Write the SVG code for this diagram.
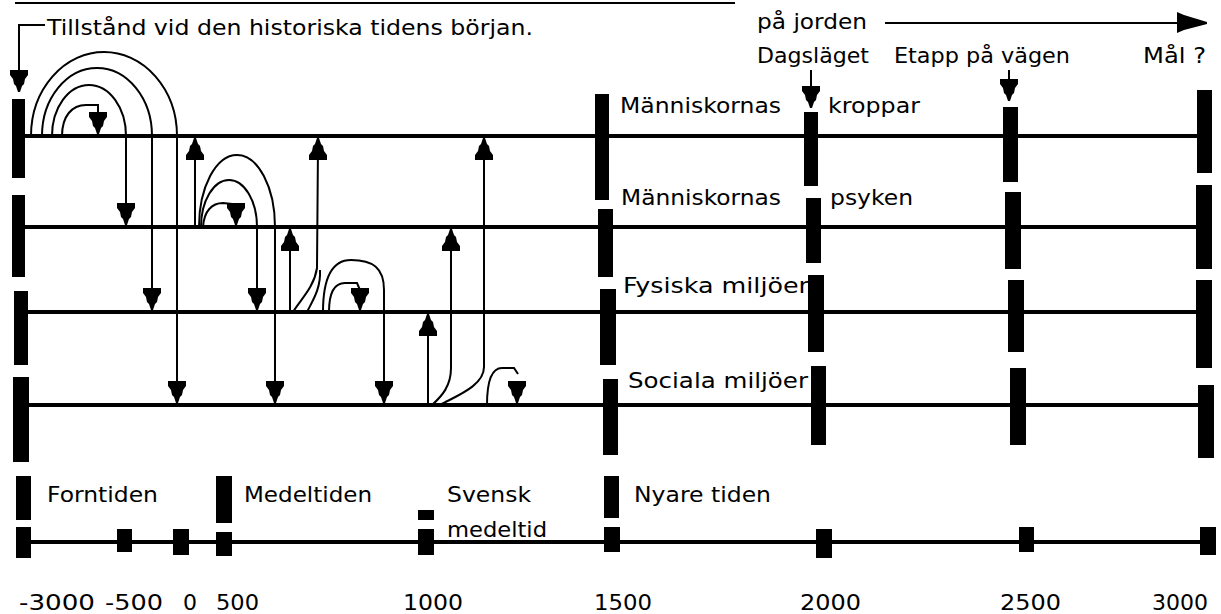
<svg xmlns="http://www.w3.org/2000/svg" xmlns:xlink="http://www.w3.org/1999/xlink" width="1221" height="614" viewBox="0 0 1221 614">
<style>
.ln{stroke:#000;stroke-width:4;fill:none}
.c{stroke:#000;stroke-width:2;fill:none}
.bar{fill:#000}
.t{font-family:"DejaVu Sans","Liberation Sans",sans-serif;font-size:22px;fill:#000}
</style>
<defs>
<path id="up" d="M-1,0 L1,0 L3,6 L5,8 L6,13 L9,17 L9,22 L-9,22 L-9,17 L-6,13 L-5,8 L-3,6 Z" fill="#000"/>
</defs>
<rect width="1221" height="614" fill="#fff"/>

<g id="title">
<line x1="15" y1="3" x2="735" y2="3" stroke="#000" stroke-width="2"/>
</g>

<g id="timelines">
<line class="ln" x1="12" y1="136" x2="1210" y2="136"/>
<line class="ln" x1="12" y1="227" x2="1210" y2="227"/>
<line class="ln" x1="14" y1="312" x2="1210" y2="312"/>
<line class="ln" x1="14" y1="405" x2="1212" y2="405"/>
<line class="ln" x1="16" y1="542" x2="1214" y2="542"/>
</g>

<g id="bars">
<rect class="bar" x="12" y="99" width="13" height="79"/>
<rect class="bar" x="12" y="195" width="13" height="82"/>
<rect class="bar" x="14" y="291" width="14" height="74"/>
<rect class="bar" x="13" y="377" width="16" height="85"/>
<rect class="bar" x="16" y="476" width="15" height="44"/>
<rect class="bar" x="16" y="527" width="15" height="31"/>

<rect class="bar" x="595" y="94" width="14" height="106"/>
<rect class="bar" x="598" y="209" width="15" height="68"/>
<rect class="bar" x="600" y="289" width="16" height="76"/>
<rect class="bar" x="603" y="379" width="15" height="76"/>
<rect class="bar" x="604" y="476" width="15" height="42"/>
<rect class="bar" x="604" y="527" width="16" height="25"/>

<rect class="bar" x="804" y="112" width="14" height="74"/>
<rect class="bar" x="806" y="198" width="15" height="65"/>
<rect class="bar" x="808" y="275" width="16" height="77"/>
<rect class="bar" x="811" y="366" width="15" height="79"/>
<rect class="bar" x="816" y="529" width="16" height="29"/>

<rect class="bar" x="1003" y="107" width="15" height="75"/>
<rect class="bar" x="1005" y="192" width="16" height="77"/>
<rect class="bar" x="1008" y="280" width="16" height="72"/>
<rect class="bar" x="1010" y="368" width="16" height="77"/>
<rect class="bar" x="1019" y="527" width="15" height="25"/>

<rect class="bar" x="1197" y="90" width="15" height="83"/>
<rect class="bar" x="1196" y="185" width="16" height="84"/>
<rect class="bar" x="1196" y="280" width="16" height="88"/>
<rect class="bar" x="1198" y="385" width="16" height="73"/>
<rect class="bar" x="1200" y="527" width="16" height="28"/>

<rect class="bar" x="117" y="529" width="15" height="23"/>
<rect class="bar" x="173" y="529" width="16" height="26"/>
<rect class="bar" x="216" y="476" width="16" height="47"/>
<rect class="bar" x="216" y="532" width="16" height="24"/>
<rect class="bar" x="418" y="510" width="16" height="10"/>
<rect class="bar" x="418" y="529" width="16" height="26"/>
</g>

<g id="connectors">
<path class="c" d="M45,25 L19,25 L19,72"/>
<use href="#up" transform="translate(19,92) scale(1,-1)"/>
<line class="c" x1="885" y1="23" x2="1185" y2="23"/>
<polygon points="1177,12 1184,15 1207,22 1207,24 1184,30 1177,33" fill="#000"/>
<line class="c" x1="811" y1="70" x2="811" y2="100"/>
<use href="#up" transform="translate(811,108) scale(1,-1)"/>
<line class="c" x1="1009" y1="70" x2="1009" y2="95"/>
<use href="#up" transform="translate(1009,101) scale(1,-1)"/>

<path class="c" d="M31,136 A73,84 0 0 1 177,136 L177,395"/>
<path class="c" d="M42,136 A55,68 0 0 1 152,136 L152,302"/>
<path class="c" d="M52,136 A37,51 0 0 1 126,136 L126,216"/>
<path class="c" d="M62,136 C62,116 72,105 86,105 L98,105 L98,128"/>
<use href="#up" transform="translate(177,403) scale(1,-1)"/>
<use href="#up" transform="translate(152,310) scale(1,-1)"/>
<use href="#up" transform="translate(126,225) scale(1,-1)"/>
<use href="#up" transform="translate(98,134) scale(1,-1)"/>

<line class="c" x1="195" y1="227" x2="195" y2="145"/>
<use href="#up" transform="translate(195,138)"/>
<path class="c" d="M199,227 A38,72 0 0 1 275,227 L275,395"/>
<path class="c" d="M201,227 A28,47 0 0 1 257,227 L257,302"/>
<path class="c" d="M203,227 C204,211 212,203 223,203 L232,204 L236,210"/>
<use href="#up" transform="translate(275,403) scale(1,-1)"/>
<use href="#up" transform="translate(257,310) scale(1,-1)"/>
<use href="#up" transform="translate(236,225) scale(1,-1)"/>

<line class="c" x1="290" y1="312" x2="290" y2="235"/>
<use href="#up" transform="translate(290,229)"/>
<path class="c" d="M293,312 C300,300 314,288 317,268 L318,145"/>
<path class="c" d="M307,312 C313,300 321,288 320,270"/>
<use href="#up" transform="translate(318,138)"/>
<path class="c" d="M323,312 C323,274 334,260 351,260 C373,260 384,268 384,290 L384,395"/>
<path class="c" d="M329,312 C329,292 335,283 345,283 L357,283 L360,290"/>
<use href="#up" transform="translate(384,403) scale(1,-1)"/>
<use href="#up" transform="translate(360,310) scale(1,-1)"/>

<line class="c" x1="428" y1="405" x2="428" y2="320"/>
<use href="#up" transform="translate(428,314)"/>
<path class="c" d="M432,405 C442,396 451,386 451,368 L451,235"/>
<use href="#up" transform="translate(451,229)"/>
<path class="c" d="M440,405 C456,396 484,386 484,367 L484,145"/>
<use href="#up" transform="translate(484,138)"/>
<path class="c" d="M487,405 C487,380 492,368 502,368 L514,368 L518,374"/>
<use href="#up" transform="translate(517,403) scale(1,-1)"/>
</g>

<g id="labels">
<text class="t" x="47" y="35" textLength="486" lengthAdjust="spacingAndGlyphs">Tillstånd vid den historiska tidens början.</text>
<text class="t" x="757" y="29" textLength="110" lengthAdjust="spacingAndGlyphs">på jorden</text>
<text class="t" x="757" y="63" textLength="112" lengthAdjust="spacingAndGlyphs">Dagsläget</text>
<text class="t" x="894" y="63" textLength="176" lengthAdjust="spacingAndGlyphs">Etapp på vägen</text>
<text class="t" x="1143" y="63" textLength="63" lengthAdjust="spacingAndGlyphs">Mål ?</text>
<text class="t" x="620" y="113" textLength="161" lengthAdjust="spacingAndGlyphs">Människornas</text>
<text class="t" x="828" y="113" textLength="92" lengthAdjust="spacingAndGlyphs">kroppar</text>
<text class="t" x="621" y="205" textLength="160" lengthAdjust="spacingAndGlyphs">Människornas</text>
<text class="t" x="830" y="205" textLength="83" lengthAdjust="spacingAndGlyphs">psyken</text>
<text class="t" x="623" y="293" textLength="186" lengthAdjust="spacingAndGlyphs">Fysiska miljöer</text>
<text class="t" x="628" y="388" textLength="180" lengthAdjust="spacingAndGlyphs">Sociala miljöer</text>
<text class="t" x="47" y="502" textLength="111" lengthAdjust="spacingAndGlyphs">Forntiden</text>
<text class="t" x="244" y="502" textLength="128" lengthAdjust="spacingAndGlyphs">Medeltiden</text>
<text class="t" x="447" y="502" textLength="84" lengthAdjust="spacingAndGlyphs">Svensk</text>
<text class="t" x="447" y="537" textLength="100" lengthAdjust="spacingAndGlyphs">medeltid</text>
<text class="t" x="634" y="502" textLength="137" lengthAdjust="spacingAndGlyphs">Nyare tiden</text>
<text class="t" x="19" y="610" textLength="76" lengthAdjust="spacingAndGlyphs">-3000</text>
<text class="t" x="105" y="610" textLength="58" lengthAdjust="spacingAndGlyphs">-500</text>
<text class="t" x="183" y="610" textLength="14" lengthAdjust="spacingAndGlyphs">0</text>
<text class="t" x="216" y="610" textLength="43" lengthAdjust="spacingAndGlyphs">500</text>
<text class="t" x="403" y="610" textLength="60" lengthAdjust="spacingAndGlyphs">1000</text>
<text class="t" x="594" y="610" textLength="58" lengthAdjust="spacingAndGlyphs">1500</text>
<text class="t" x="800" y="610" textLength="61" lengthAdjust="spacingAndGlyphs">2000</text>
<text class="t" x="1000" y="610" textLength="61" lengthAdjust="spacingAndGlyphs">2500</text>
<text class="t" x="1152" y="610" textLength="56" lengthAdjust="spacingAndGlyphs">3000</text>
</g>
</svg>
